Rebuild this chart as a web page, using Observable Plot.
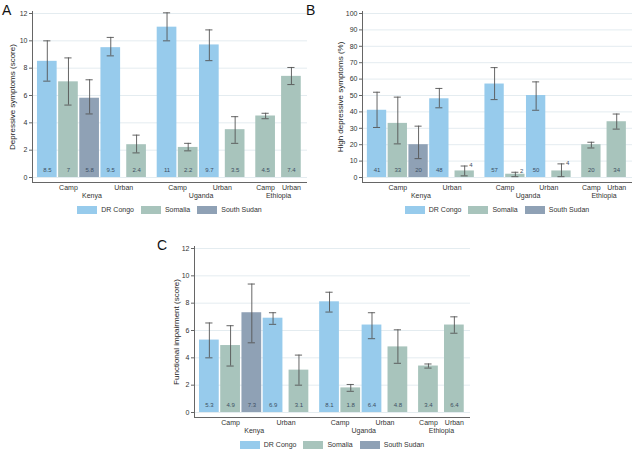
<!DOCTYPE html>
<html><head><meta charset="utf-8">
<script src="https://cdn.jsdelivr.net/npm/d3@7"></script>
<script src="https://cdn.jsdelivr.net/npm/@observablehq/plot@0.6"></script>
<style>
body{margin:0;background:#fff;font-family:"Liberation Sans",Arial,sans-serif;}
#root{position:relative;width:640px;height:464px;overflow:hidden;background:#fff;}
.letter{position:absolute;font-size:14px;line-height:14px;color:#111;}
.legend{position:absolute;display:flex;justify-content:center;align-items:center;gap:7px;font-size:7px;line-height:10px;height:10px;color:#333;}
.legend .item{display:flex;align-items:center;}
.legend .sw{width:20px;height:8px;margin-right:4px;}
</style></head><body><div id="root"></div>
<script>
// categories (one entry per bar)
const regions  = ["Kenya","Kenya","Kenya","Kenya","Kenya","Uganda","Uganda","Uganda","Uganda","Ethiopia","Ethiopia"];
const settings = ["Camp","Camp","Camp","Urban","Urban","Camp","Camp","Urban","Urban","Camp","Urban"];
const countries= ["DR Congo","Somalia","South Sudan","DR Congo","Somalia","DR Congo","Somalia","DR Congo","Somalia","Somalia","Somalia"];
const countryDomain = ["DR Congo","Somalia","South Sudan"];

// Panel A: depressive symptoms (score)
const depValues = [8.5, 7, 5.8, 9.5, 2.4, 11, 2.2, 9.7, 3.5, 4.5, 7.4];
const depLower  = [7.05, 5.3, 4.65, 8.9, 1.8, 10.0, 1.95, 8.55, 2.5, 4.3, 6.8];
const depUpper  = [10.0, 8.75, 7.15, 10.25, 3.1, 12.05, 2.5, 10.8, 4.45, 4.7, 8.05];
const depTicks  = [0, 2, 4, 6, 8, 10, 12];

// Panel B: high depressive symptoms (%)
const highValues = [41, 33, 20, 48, 4, 57, 2, 50, 4, 20, 34];
const highLower  = [30.5, 20.5, 11.5, 42.5, 1, 47.5, 0.5, 41, 0.5, 18, 29.5];
const highUpper  = [52, 49, 31.3, 54.3, 7, 67, 3.2, 58.3, 8.3, 21.5, 38.7];
const highTicks  = [0, 10, 20, 30, 40, 50, 60, 70, 80, 90, 100];

// Panel C: functional impairment (score)
const funcValues = [5.3, 4.9, 7.3, 6.9, 3.1, 8.1, 1.8, 6.4, 4.8, 3.4, 6.4];
const funcLower  = [4.0, 3.4, 5.1, 6.45, 2.0, 7.35, 1.55, 5.4, 3.6, 3.25, 5.8];
const funcUpper  = [6.55, 6.35, 9.4, 7.3, 4.2, 8.8, 2.05, 7.3, 6.05, 3.55, 7.0];
const funcTicks  = [0, 2, 4, 6, 8, 10, 12];

const colorRange = ["#97cbec", "#a8c4bc", "#8fa1b5"];

function layout() {
  const pos = [];
  let p = 0;
  for (let i = 0; i < regions.length; i++) {
    if (i > 0) {
      if (regions[i] !== regions[i-1]) p += 1.44;
      else if (settings[i] !== settings[i-1]) p += countries[i] === countries[i-1] ? 1.22 : 1;
      else p += settings[i] === "Urban" ? 1.22 : 1;
    }
    pos.push(p);
  }
  return pos;
}

const root = document.getElementById("root");

function panel({values, lower, upper, ymax, yticks, title, left, top, width, marginLeft, titleOffset, letter, letterLeft, letterTop}) {
  const pos = layout();
  const data = values.map((v, i) => ({region: regions[i], setting: settings[i], country: countries[i],
    value: v, lo: lower[i], hi: upper[i], pos: pos[i], label: String(v)}));
  const marginTop = 11, plotH = 171, marginBottom = 22, marginRight = 8;
  const height = marginTop + plotH + marginBottom;
  const y0 = -ymax * 5 / 164, y1 = ymax * (1 + 2 / 164);
  const xDomain = [-0.70, 12.30];
  const half = 0.465, cap = 0.17;
  const pxPerUnit = 164 / ymax;
  const inside = data.filter(d => d.value * pxPerUnit >= 10);
  const outside = data.filter(d => d.value * pxPerUnit < 10);
  const settingGroups = d3.groups(data, d => d.region + "|" + d.setting).map(([k, arr]) => ({
    label: arr[0].setting, pos: (d3.min(arr, d => d.pos) + d3.max(arr, d => d.pos)) / 2}));
  const regionGroups = d3.groups(data, d => d.region).map(([k, arr]) => ({
    label: k, pos: (d3.min(arr, d => d.pos) + d3.max(arr, d => d.pos)) / 2}));
  const chart = Plot.plot({
    width, height, marginLeft, marginRight, marginTop, marginBottom,
    style: {fontFamily: "'Liberation Sans', Arial, sans-serif", background: "white", color: "#333"},
    x: {type: "linear", domain: xDomain, axis: null},
    y: {domain: [y0, y1], axis: null},
    color: {domain: countryDomain, range: colorRange},
    marks: [
      Plot.ruleY(yticks, {stroke: "#e4ecf0", strokeWidth: 1}),
      Plot.rect(data, {x1: d => d.pos - half, x2: d => d.pos + half, y1: 0, y2: "value", fill: "country"}),
      Plot.ruleX(data, {x: "pos", y1: "lo", y2: "hi", stroke: "#555", strokeWidth: 0.9}),
      Plot.ruleY(data, {y: "lo", x1: d => d.pos - cap, x2: d => d.pos + cap, stroke: "#555", strokeWidth: 0.9}),
      Plot.ruleY(data, {y: "hi", x1: d => d.pos - cap, x2: d => d.pos + cap, stroke: "#555", strokeWidth: 0.9}),
      Plot.text(inside, {x: "pos", y: 0, dy: -7, text: "label", fontSize: 6, fill: "#3d4f63"}),
      Plot.text(outside, {x: d => d.pos + cap, y: "hi", dx: 1, dy: -1, textAnchor: "start", text: "label", fontSize: 6, fill: "#3d4f63"}),
      Plot.ruleX([xDomain[0]], {stroke: "#666"}),
      Plot.ruleY([y0], {stroke: "#666"}),
      Plot.axisY(yticks, {tickSize: 3, tickPadding: 2, fontSize: 7, label: null, stroke: "#666"}),
      Plot.text([title], {frameAnchor: "left", textAnchor: "middle", lineAnchor: "middle", dx: titleOffset, rotate: -90, fontSize: 8, fill: "#222"}),
      Plot.text(settingGroups, {x: "pos", y: 0, dy: 10.5, text: "label", fontSize: 7, fill: "#333"}),
      Plot.text(regionGroups, {x: "pos", y: 0, dy: 18.5, text: "label", fontSize: 7, fill: "#333"})
    ]
  });
  chart.style.position = "absolute";
  chart.style.left = left + "px";
  chart.style.top = top + "px";
  root.appendChild(chart);

  const plotW = width - marginLeft - marginRight;
  const legend = document.createElement("div");
  legend.className = "legend";
  legend.style.left = (left + marginLeft) + "px";
  legend.style.width = plotW + "px";
  legend.style.top = (top + marginTop + plotH + 23) + "px";
  countryDomain.forEach((c, i) => {
    const item = document.createElement("div");
    item.className = "item";
    const sw = document.createElement("span");
    sw.className = "sw";
    sw.style.background = colorRange[i];
    const tx = document.createElement("span");
    tx.textContent = c;
    item.appendChild(sw); item.appendChild(tx);
    legend.appendChild(item);
  });
  root.appendChild(legend);

  const L = document.createElement("div");
  L.className = "letter";
  L.textContent = letter;
  L.style.left = letterLeft + "px";
  L.style.top = letterTop + "px";
  root.appendChild(L);
}

panel({values: depValues, lower: depLower, upper: depUpper, ymax: 12, yticks: depTicks,
  title: "Depressive symptoms (score)", left: 0, top: 0, width: 315, marginLeft: 32, titleOffset: -20,
  letter: "A", letterLeft: 2, letterTop: 3});
panel({values: highValues, lower: highLower, upper: highUpper, ymax: 100, yticks: highTicks,
  title: "High depressive symptoms (%)", left: 320, top: 0, width: 320, marginLeft: 42, titleOffset: -22,
  letter: "B", letterLeft: 306, letterTop: 3});
panel({values: funcValues, lower: funcLower, upper: funcUpper, ymax: 12, yticks: funcTicks,
  title: "Functional impairment (score)", left: 150, top: 235, width: 328, marginLeft: 44, titleOffset: -18,
  letter: "C", letterLeft: 157, letterTop: 238});
</script></body></html>
